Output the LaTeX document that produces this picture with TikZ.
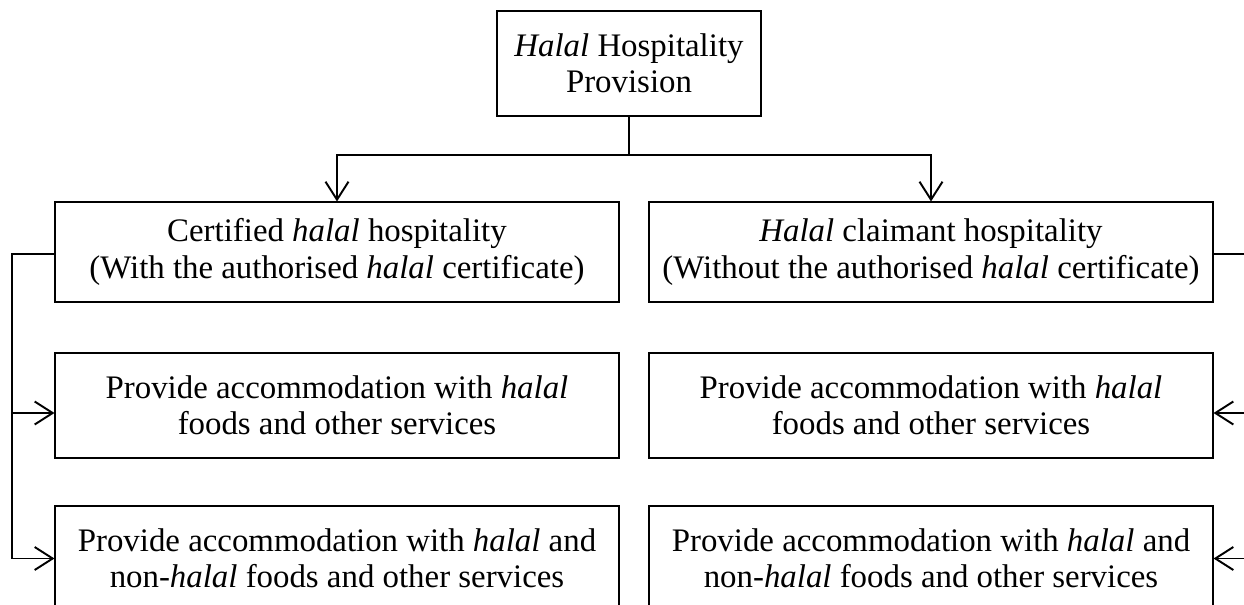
\documentclass[tikz,border=0pt]{standalone}
\usepackage{fontspec}
\setmainfont{Liberation Serif}
\usetikzlibrary{arrows.meta}

\begin{document}
\begin{tikzpicture}[
	box/.style={draw, line width=0.6pt, align=center, minimum width=11.28cm, minimum height=2.1cm, inner sep=0pt,
		font=\fontsize{18.7}{20.6}\selectfont},
	link/.style={line width=1.1pt},
	arr/.style={link, -{Straight Barb[length=3.6mm,width=4.6mm,line width=1.1pt]}}]
	\useasboundingbox (0,0) rectangle (24.88,12.08);
	\clip (0,0) rectangle (24.88,12.08);
	\node[box, minimum width=5.28cm] (top) at (12.58,10.81) {\textit{Halal} Hospitality\\Provision};
	\node[box, minimum height=2cm] (l1) at (6.74,7.04) {Certified \textit{halal} hospitality\\(With the authorised \textit{halal} certificate)};
	\node[box, minimum height=2cm] (r1) at (18.62,7.04) {\textit{Halal} claimant hospitality\\(Without the authorised \textit{halal} certificate)};
	\node[box] (l2) at (6.74,3.97) {Provide accommodation with \textit{halal}\\foods and other services};
	\node[box] (r2) at (18.62,3.97) {Provide accommodation with \textit{halal}\\foods and other services};
	\node[box] (l3) at (6.74,0.91) {Provide accommodation with \textit{halal} and\\non-\textit{halal} foods and other services};
	\node[box] (r3) at (18.62,0.91) {Provide accommodation with \textit{halal} and\\non-\textit{halal} foods and other services};
	\coordinate (split) at (12.58,8.98);
	\coordinate (lbus) at (0.24,7.0);
	\coordinate (rbus) at (25.2,7.0);
	% top to both kinds
	\draw[link] (top.south) -- (split);
	\draw[arr] (split) -| (l1.north);
	\draw[arr] (split) -| (r1.north);
	% left side
	\draw[link] (l1.west |- lbus) -- (lbus) -- (lbus |- l3.west);
	\draw[arr] (lbus |- 0,3.82) -- (l2.west |- 0,3.82);
	\draw[arr] (lbus |- l3.west) -- (l3.west);
	% right side
	\draw[link] (r1.east |- rbus) -- (rbus) -- (rbus |- r3.east);
	\draw[arr] (rbus |- 0,3.82) -- (r2.east |- 0,3.82);
	\draw[arr] (rbus |- r3.east) -- (r3.east);
\end{tikzpicture}
\end{document}
